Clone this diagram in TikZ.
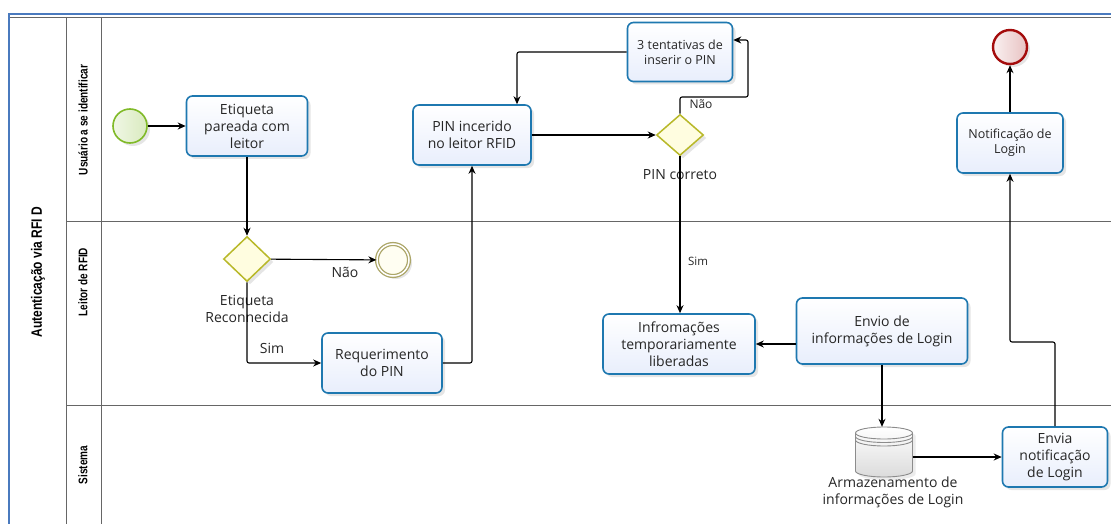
\documentclass[tikz,border=0pt]{standalone}
\usepackage{fontspec}
\setmainfont{Open Sans}
\newfontfamily\lanefont{Liberation Sans}[FakeStretch=0.8]
\usetikzlibrary{shapes.geometric,arrows.meta,shadows}
\definecolor{taskblue}{RGB}{30,120,176}
\definecolor{taskfill}{RGB}{232,238,252}
\definecolor{poolblue}{RGB}{74,122,190}
\definecolor{startgreen}{RGB}{128,186,40}
\definecolor{endred}{RGB}{164,12,12}
\definecolor{gateolive}{RGB}{184,184,40}
\definecolor{midolive}{RGB}{172,166,104}

\begin{document}
\begin{tikzpicture}[x=1pt,y=-1pt,
  txt/.style={font=\fontsize{14}{17}\selectfont, text=black!85},
  small/.style={font=\fontsize{12.5}{15}\selectfont, text=black!85},
  task/.style={rectangle, rounded corners=6pt, draw=taskblue, line width=1.6pt,
    top color=white, bottom color=taskfill, align=center, inner sep=2pt,
    drop shadow={opacity=0.2, shadow xshift=3pt, shadow yshift=-3pt}},
  gate/.style={diamond, draw=gateolive, line width=1.5pt, fill=yellow!12,
    minimum width=47pt, minimum height=45pt, inner sep=0pt,
    drop shadow={opacity=0.2, shadow xshift=3pt, shadow yshift=-3pt}},
  startev/.style={circle, draw=startgreen, line width=1.6pt, inner sep=0pt,
    minimum size=34pt, left color=startgreen!12, right color=startgreen!30,
    drop shadow={opacity=0.2, shadow xshift=3pt, shadow yshift=-3pt}},
  endev/.style={circle, draw=endred, line width=2.4pt, inner sep=0pt,
    minimum size=34pt, left color=endred!6, right color=endred!25,
    drop shadow={opacity=0.2, shadow xshift=3pt, shadow yshift=-3pt}},
  midev/.style={circle, draw=midolive, double=white, double distance=1.5pt,
    line width=1.3pt, inner sep=0pt, minimum size=32pt, fill=yellow!5,
    drop shadow={opacity=0.2, shadow xshift=3pt, shadow yshift=-3pt}},
  store/.style={rectangle, minimum width=57pt, minimum height=50pt, inner sep=0pt},
  ring/.style={draw=black!45, line width=0.9pt},
  lane/.style={draw=black!60, line width=0.9pt},
  flow/.style={-{Stealth[length=8pt,width=7pt]}, line width=1.1pt, rounded corners=2pt},
  lanelbl/.style={font=\lanefont\bfseries\fontsize{12.5}{14}\selectfont, rotate=90}
]
\useasboundingbox (0,0) rectangle (1111,524);
\fill[white] (0,0) rectangle (1111,524);

\draw[lane] (9,17) -- (1111,17);
\draw[lane] (66,17) -- (66,524);
\draw[lane] (101,17) -- (101,524);
\draw[lane] (66,221) -- (1111,221);
\draw[lane] (66,405) -- (1111,405);
\draw[draw=poolblue, line width=2pt] (1111,14) -- (9,14) -- (9,524);

\node[font=\lanefont\bfseries\fontsize{15}{17}\selectfont, rotate=90] (pool) at (38,272) {Autenticação via RFI D};
\node[lanelbl] (usr) at (83,120) {Usuário a se identificar};
\node[lanelbl] (rdr) at (83,282) {Leitor de RFID};
\node[lanelbl] (sys) at (83,465) {Sistema};

\node[startev] (start) at (130,126) {};
\node[task, txt, minimum width=121pt, minimum height=60pt] (pareada) at (247,126) {Etiqueta\\pareada com\\leitor};
\node[gate] (reconh) at (247,259) {};
\node[txt, align=center] (reconhlbl) at (247,309) {Etiqueta\\Reconnecida};
\node[midev] (falha) at (393,260) {};
\node[task, txt, minimum width=120pt, minimum height=60pt] (reqpin) at (382,363) {Requerimento\\do PIN};
\node[task, txt, minimum width=118pt, minimum height=60pt] (pinlido) at (472,135) {PIN incerido\\no leitor RFID};
\node[gate, minimum height=41pt] (pinok) at (680,135) {};
\node[txt] (pinoklbl) at (680,175) {PIN correto};
\node[task, small, minimum width=105pt, minimum height=59pt] (tentativas) at (680,52) {3 tentativas de\\inserir o PIN};
\node[task, txt, minimum width=152pt, minimum height=60pt] (liberadas) at (679,344) {Infromações\\temporariamente\\liberadas};
\node[task, txt, minimum width=171pt, minimum height=66pt] (envio) at (882,331) {Envio de\\informações de Login};
\node[store] (banco) at (884,452) {};
\node[txt, align=center] (bancolbl) at (893,492) {Armazenamento de\\informações de Login};
\node[task, txt, minimum width=105pt, minimum height=60pt] (envia) at (1055,457) {Envia\\notificação\\de Login};
\node[task, small, minimum width=106pt, minimum height=60pt] (notif) at (1010,143) {Notificação de\\Login};
\node[endev] (fim) at (1010,47) {};

\path[ring, top color=white, bottom color=black!14,
  drop shadow={opacity=0.15, shadow xshift=3pt, shadow yshift=-3pt}]
  ([xshift=-28.5pt,yshift=19pt]banco.center) -- ([xshift=-28.5pt,yshift=-19pt]banco.center)
  arc[start angle=180, end angle=360, x radius=28.5pt, y radius=6pt]
  -- ([xshift=28.5pt,yshift=19pt]banco.center)
  arc[start angle=0, end angle=180, x radius=28.5pt, y radius=6pt] -- cycle;
\foreach \dy in {19,15.5,12}
  \draw[ring] ([xshift=-28.5pt,yshift=\dy pt]banco.center) arc[start angle=180, end angle=360, x radius=28.5pt, y radius=6pt];

\coordinate (naobend) at (748,97);
\coordinate (loginbend) at (1032,342);

\draw[flow] (start) -- (pareada);
\draw[flow] (pareada) -- (reconh);
\draw[flow] (reconh) -- (falha);
\node[txt] (nao1) at (345,272) {Não};
\draw[flow] (reconh) |- (reqpin);
\node[txt] (sim1) at (272,348) {Sim};
\draw[flow] (reqpin) -| (pinlido);
\draw[flow] (pinlido) -- (pinok);
\draw[flow] (pinok) |- (naobend) |- ([yshift=12pt]tentativas.east);
\node[font=\fontsize{12}{14}\selectfont, text=black!85] (nao2) at (701,104) {Não};
\draw[flow] (tentativas) -| ([xshift=45pt]pinlido.north);
\draw[flow] (pinok) -- (pinok |- liberadas.north);
\node[font=\fontsize{11.5}{13}\selectfont, text=black!85] (sim2) at (698,261) {Sim};
\draw[flow] (envio.west |- liberadas.east) -- (liberadas);
\draw[flow] (envio) -- (banco.north -| envio.south);
\draw[flow] (banco.east |- envia.west) -- (envia);
\draw[flow] (envia) |- (loginbend) -| (notif);
\draw[flow] (notif) -- (fim);
\end{tikzpicture}
\end{document}
